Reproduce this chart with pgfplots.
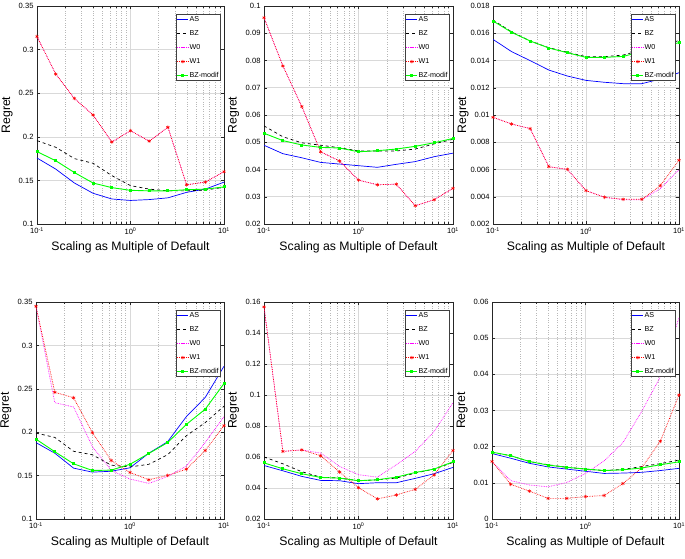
\documentclass[border=0pt]{standalone}
\usepackage{pgfplots}
\pgfplotsset{compat=1.18}
\usepackage{pgfplotstable}
\usepackage{fontspec}
\setmainfont{Liberation Sans}

\definecolor{mgreen}{rgb}{0,1,0}
\definecolor{mblue}{rgb}{0,0,1}
\definecolor{mred}{rgb}{1,0,0}
\definecolor{mmag}{rgb}{1,0,1}

\pgfplotstableread{
x AS BZ W0 W1 BZm
0.1 0.1757 0.1956 0.315 0.315 0.183
0.1585 0.163 0.188 0.272 0.272 0.1726
0.2512 0.147 0.175 0.244 0.244 0.159
0.3981 0.1352 0.1696 0.225 0.225 0.147
0.631 0.1287 0.1555 0.194 0.194 0.1417
1 0.127 0.144 0.207 0.207 0.1386
1.585 0.128 0.140 0.195 0.195 0.138
2.512 0.130 0.138 0.211 0.211 0.138
3.981 0.1363 0.138 0.145 0.145 0.1393
6.31 0.140 0.139 0.148 0.148 0.140
10 0.148 0.142 0.160 0.160 0.1425
}\tabA

\pgfplotstableread{
x AS BZ W0 W1 BZm
0.1 0.0489 0.056 0.0957 0.0957 0.0533
0.1585 0.0458 0.052 0.078 0.078 0.0506
0.2512 0.0443 0.0498 0.0631 0.0631 0.049
0.3981 0.0426 0.0489 0.0465 0.0465 0.0481
0.631 0.042 0.048 0.0431 0.0431 0.0479
1 0.0414 0.0468 0.0361 0.0361 0.0465
1.585 0.0408 0.0468 0.0344 0.0344 0.0469
2.512 0.0419 0.0468 0.0346 0.0346 0.0475
3.981 0.0429 0.0475 0.0267 0.0267 0.0485
6.31 0.0447 0.0494 0.0289 0.0289 0.0498
10 0.046 0.0511 0.0331 0.0331 0.0514
}\tabB

\pgfplotstableread{
x AS BZ W0 W1 BZm
0.1 0.01555 0.01697 0.00983 0.00983 0.0169
0.1585 0.01465 0.0161 0.00934 0.00934 0.01607
0.2512 0.01399 0.01543 0.0090 0.0090 0.01543
0.3981 0.0133 0.01494 0.00621 0.00621 0.01492
0.631 0.01286 0.0146 0.00601 0.00601 0.01457
1 0.01254 0.01428 0.00445 0.00445 0.01423
1.585 0.0124 0.01428 0.00396 0.00396 0.01423
2.512 0.0123 0.0144 0.00378 0.00381 0.0143
3.981 0.0123 0.01477 0.00378 0.00381 0.01466
6.31 0.01264 0.0151 0.0046 0.00482 0.01497
10 0.0131 0.01546 0.0060 0.00668 0.01531
}\tabC

\pgfplotstableread{
x AS BZ W0 W1 BZm
0.1 0.188 0.199 0.345 0.345 0.192
0.1585 0.1758 0.194 0.234 0.246 0.1775
0.2512 0.1586 0.178 0.229 0.2397 0.1636
0.3981 0.154 0.174 0.1834 0.1995 0.1559
0.631 0.155 0.162 0.156 0.1674 0.1563
1 0.159 0.160 0.146 0.1536 0.163
1.585 0.1758 0.163 0.141 0.1452 0.1755
2.512 0.189 0.174 0.149 0.1502 0.188
3.981 0.218 0.196 0.161 0.1574 0.209
6.31 0.240 0.211 0.188 0.1789 0.2265
10 0.276 0.230 0.218 0.2076 0.256
}\tabD

\pgfplotstableread{
x AS BZ W0 W1 BZm
0.1 0.0545 0.060 0.1568 0.1568 0.0562
0.1585 0.0511 0.0556 0.0636 0.0636 0.0524
0.2512 0.0475 0.0505 0.0646 0.0646 0.0492
0.3981 0.0449 0.047 0.0625 0.0608 0.0468
0.631 0.0447 0.0464 0.0539 0.0503 0.0464
1 0.0428 0.0447 0.0486 0.0402 0.0447
1.585 0.0434 0.0453 0.047 0.033 0.0453
2.512 0.0434 0.0464 0.055 0.0355 0.047
3.981 0.0462 0.0496 0.0636 0.0391 0.05
6.31 0.0492 0.0522 0.0764 0.0484 0.0522
10 0.0533 0.0565 0.095 0.0642 0.0569
}\tabE

\pgfplotstableread{
x AS BZ W0 W1 BZm
0.1 0.0181 0.0184 0.0159 0.0159 0.0185
0.1585 0.0168 0.0175 0.0106 0.0096 0.0175
0.2512 0.0154 0.0159 0.0094 0.0077 0.0159
0.3981 0.0144 0.015 0.0089 0.0057 0.0149
0.631 0.0138 0.0143 0.0101 0.0057 0.0143
1 0.0132 0.0138 0.0126 0.0062 0.0138
1.585 0.0126 0.0134 0.0161 0.0065 0.0134
2.512 0.0127 0.0137 0.0211 0.0098 0.0136
3.981 0.0129 0.0145 0.0297 0.0141 0.0141
6.31 0.0134 0.0153 0.0393 0.0215 0.015
10 0.014 0.0163 0.0557 0.0343 0.0158
}\tabF

\pgfplotsset{
  legend image code/.code={\draw[mark repeat=2,mark phase=2,#1] plot coordinates {(0bp,0bp) (5.5bp,0bp) (11bp,0bp)};},
  every axis x label/.style={at={(axis description cs:0.5,0)}, anchor=center, yshift=-23bp, font=\fontsize{12.3}{13}\selectfont},
  every axis y label/.style={at={(axis description cs:-0.16,0.5)}, rotate=90, anchor=center, font=\fontsize{12.3}{13}\selectfont},
}
\pgfplotsset{
  every axis/.append style={
    scale only axis, anchor=south west,
    xmin=0.1, xmax=10,
    xtick={0.1,1,10},
    xticklabels={10\textsuperscript{-1},10\textsuperscript{0},10\textsuperscript{1}},
    minor xtick={0.2,0.3,0.4,0.5,0.6,0.7,0.8,0.9,2,3,4,5,6,7,8,9},
    xmajorgrids, xminorgrids, ymajorgrids,
    major grid style={black!15, line width=0.5bp},
    minor grid style={black!28, line width=0.4bp, dotted},
    tick align=inside,
    major tick length=3bp, minor tick length=1.8bp,
    tick style={black!85, line width=0.4bp},
    axis line style={black!85, line width=0.5bp},
    scaled y ticks=false,
    yticklabel style={/pgf/number format/fixed, /pgf/number format/precision=3, /pgf/number format/assume math mode=true},
    tick label style={font=\fontsize{7.6}{8.5}\selectfont},
    xlabel={Scaling as Multiple of Default},
    ylabel={Regret},
    legend cell align=left,
    legend style={at={(rel axis cs:0.982,0.962)}, anchor=north east,
      font=\fontsize{7.2}{8}\selectfont, draw=black!75, fill=white,
      line width=0.6bp, inner sep=0.8bp, row sep=6bp,
      nodes={inner sep=0.8bp}},
  },
}

\newcommand\plotall[1]{%
  \addplot[color=mblue, draw=mblue, line width=0.7bp] table[x=x,y=AS]{#1};
  \addplot[color=black, draw=black, dashed, line width=0.7bp] table[x=x,y=BZ]{#1};
  \addplot[color=mmag, draw=mmag, densely dotted, line width=0.7bp] table[x=x,y=W0]{#1};
  \addplot[color=mred, draw=mred, densely dotted, line width=0.7bp, mark=asterisk, mark size=1.8bp, mark options={solid, line width=0.5bp, draw=mred}] table[x=x,y=W1]{#1};
  \addplot[color=mgreen, draw=mgreen, line width=0.9bp, mark=square*, mark size=1bp, mark options={solid, draw=mgreen, fill=mgreen}] table[x=x,y=BZm]{#1};
  \legend{AS,BZ,W0,W1,BZ-modif}
}

\begin{document}
\begin{tikzpicture}
\useasboundingbox (0,0) rectangle (685bp,559bp);

\begin{semilogxaxis}[at={(37bp,335bp)}, width=187bp, height=218bp,
  ymin=0.1, ymax=0.35, ytick={0.1,0.15,0.2,0.25,0.3,0.35}]
\plotall{\tabA}
\end{semilogxaxis}

\begin{semilogxaxis}[at={(264bp,335bp)}, width=189bp, height=218bp,
  ymin=0.02, ymax=0.1, ytick={0.02,0.03,0.04,0.05,0.06,0.07,0.08,0.09,0.1}]
\plotall{\tabB}
\end{semilogxaxis}

\begin{semilogxaxis}[at={(493bp,335bp)}, width=186bp, height=218bp,
  ymin=0.002, ymax=0.018, ytick={0.002,0.004,0.006,0.008,0.01,0.012,0.014,0.016,0.018}]
\plotall{\tabC}
\end{semilogxaxis}

\begin{semilogxaxis}[at={(36bp,40bp)}, width=188bp, height=217bp,
  ymin=0.1, ymax=0.35, ytick={0.1,0.15,0.2,0.25,0.3,0.35}]
\plotall{\tabD}
\end{semilogxaxis}

\begin{semilogxaxis}[at={(264bp,40bp)}, width=189bp, height=217bp,
  ymin=0.02, ymax=0.16, ytick={0.02,0.04,0.06,0.08,0.1,0.12,0.14,0.16}]
\plotall{\tabE}
\end{semilogxaxis}

\begin{semilogxaxis}[at={(492bp,40bp)}, width=187bp, height=217bp,
  ymin=0, ymax=0.06, ytick={0,0.01,0.02,0.03,0.04,0.05,0.06}]
\plotall{\tabF}
\end{semilogxaxis}

\end{tikzpicture}
\end{document}
